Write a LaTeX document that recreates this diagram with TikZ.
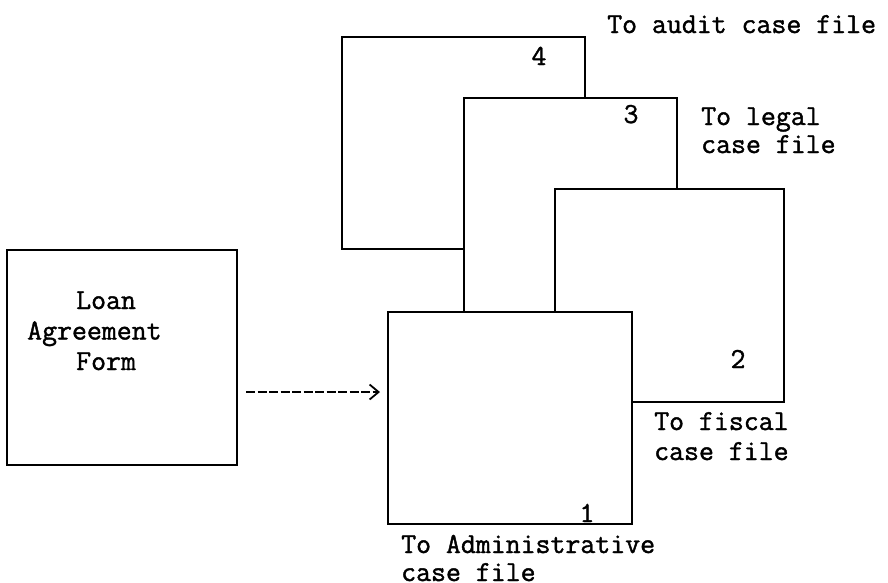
\documentclass[tikz,border=0pt]{standalone}
\usepackage{fontspec}
\newfontfamily\typew{Latin Modern Mono}[FakeBold=1.4]
\usetikzlibrary{arrows.meta}
\begin{document}
\begin{tikzpicture}[x=1pt,y=-1pt,
  sheet/.style={draw, fill=white, line width=1.6pt, anchor=north west, inner sep=0pt, outer sep=0pt},
  txt/.style={font=\typew\fontsize{29}{29}\selectfont, inner sep=0pt},
  lbl/.style={txt, anchor=base west, align=left},
  num/.style={txt, anchor=base},
  flow/.style={line width=1.8pt, dash pattern=on 9pt off 2.5pt, -{Straight Barb[length=9pt,width=15pt,line width=1.8pt]}}]
\useasboundingbox (0,0) rectangle (888,582);
% sheets, back to front
\node[sheet, minimum width=243pt, minimum height=212pt] (b4) at (342,37) {};
\node[sheet, minimum width=213pt, minimum height=282pt] (b3) at (464,98) {};
\node[sheet, minimum width=229pt, minimum height=213pt] (b2) at (555,189) {};
\node[sheet, minimum width=244pt, minimum height=212pt] (b1) at (388,312) {};
\node[sheet, minimum width=230pt, minimum height=215pt] (loan) at (7,250) {};
% texts (multi-line nodes are placed by the baseline of their last line)
\node[lbl, font=\typew\fontsize{29}{30.5}\selectfont] (tloan) at (27,370) {\hspace*{49pt}Loan\\Agreement\\\hspace*{49pt}Form};
\node[num] (n4) at (539,65) {4};
\node[num] (n3) at (631,123) {3};
\node[num] (n2) at (738,368) {2};
\node[num] (n1) at (587,522) {1};
\node[lbl] (l4) at (607,33) {To audit case file};
\node[lbl, font=\typew\fontsize{29}{28}\selectfont] (l3) at (701,153) {To legal\\case file};
\node[lbl, font=\typew\fontsize{29}{30}\selectfont] (l2) at (654,460) {To fiscal\\case file};
\node[lbl, font=\typew\fontsize{29}{28}\selectfont] (l1) at (401,581) {To Administrative\\case file};
% connector
\draw[flow, shorten <=9pt, shorten >=8pt] ([yshift=-34.5pt]loan.east) -- ([yshift=-34.5pt]loan.east -| b1.west);
\end{tikzpicture}
\end{document}
